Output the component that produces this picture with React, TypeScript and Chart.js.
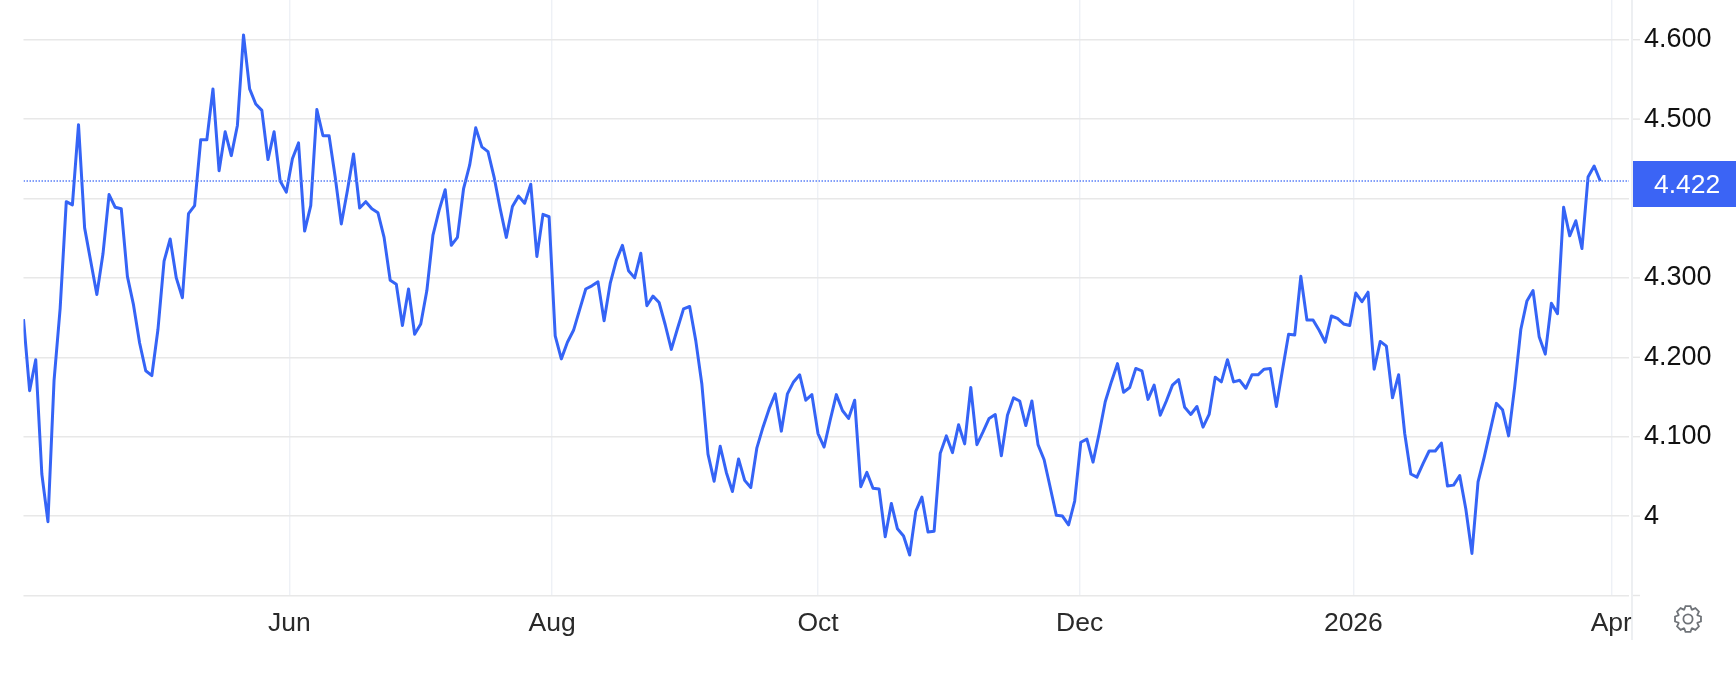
import React, { useEffect, useRef } from "react";
import { Chart, registerables } from "chart.js";

Chart.register(...registerables);

const yields: number[] = [
  4.248, 4.158, 4.197, 4.053, 3.993, 4.171, 4.262, 4.396, 4.392, 4.493,
  4.363, 4.321, 4.279, 4.33, 4.405, 4.389, 4.387, 4.302, 4.266, 4.218,
  4.183, 4.177, 4.235, 4.321, 4.349, 4.3, 4.275, 4.381, 4.391, 4.474,
  4.474, 4.538, 4.435, 4.484, 4.454, 4.492, 4.606, 4.538, 4.519, 4.511,
  4.449, 4.484, 4.422, 4.408, 4.45, 4.47, 4.359, 4.391, 4.512, 4.479,
  4.479, 4.427, 4.368, 4.41, 4.456, 4.388, 4.396, 4.387, 4.382, 4.351,
  4.297, 4.292, 4.24, 4.286, 4.229, 4.242, 4.284, 4.354, 4.385, 4.411,
  4.341, 4.351, 4.412, 4.442, 4.489, 4.465, 4.459, 4.427, 4.387, 4.351,
  4.39, 4.403, 4.394, 4.418, 4.327, 4.38, 4.377, 4.227, 4.198, 4.219,
  4.234, 4.26, 4.286, 4.29, 4.295, 4.246, 4.293, 4.322, 4.341, 4.309,
  4.3, 4.331, 4.265, 4.277, 4.269, 4.241, 4.21, 4.236, 4.261, 4.264,
  4.221, 4.166, 4.078, 4.044, 4.088, 4.055, 4.031, 4.072, 4.045, 4.036,
  4.086, 4.112, 4.135, 4.154, 4.107, 4.154, 4.169, 4.178, 4.146, 4.153,
  4.104, 4.087, 4.121, 4.153, 4.133, 4.123, 4.146, 4.037, 4.055, 4.035,
  4.034, 3.974, 4.016, 3.984, 3.975, 3.951, 4.006, 4.024, 3.98, 3.981,
  4.079, 4.101, 4.08, 4.115, 4.091, 4.162, 4.09, 4.106, 4.123, 4.128,
  4.076, 4.127, 4.149, 4.145, 4.114, 4.145, 4.09, 4.071, 4.036, 4.001,
  4.0, 3.989, 4.019, 4.093, 4.097, 4.068, 4.104, 4.144, 4.169, 4.192,
  4.156, 4.162, 4.186, 4.183, 4.147, 4.165, 4.127, 4.145, 4.165, 4.172,
  4.137, 4.128, 4.138, 4.112, 4.128, 4.175, 4.169, 4.197, 4.169, 4.171,
  4.161, 4.178, 4.178, 4.185, 4.186, 4.138, 4.184, 4.229, 4.228, 4.302,
  4.247, 4.247, 4.234, 4.219, 4.252, 4.249, 4.242, 4.24, 4.281, 4.27,
  4.282, 4.185, 4.22, 4.214, 4.149, 4.178, 4.104, 4.053, 4.049, 4.066,
  4.082, 4.082, 4.092, 4.038, 4.039, 4.051, 4.009, 3.953, 4.043, 4.074,
  4.108, 4.142, 4.134, 4.101, 4.163, 4.235, 4.271, 4.284, 4.226, 4.204,
  4.268, 4.255, 4.389, 4.353, 4.372, 4.337, 4.427, 4.441, 4.422,
];

const xTickLabels: string[] = ["Jun", "Aug", "Oct", "Dec", "2026", "Apr"];
const xTickIndex: number[] = [43.5, 86.5, 130, 172.8, 217.6, 259.8];
const yTickValues: number[] = [3.9, 4, 4.1, 4.2, 4.3, 4.4, 4.5, 4.6];
const lastValue = 4.422;
const lastLabel = "4.422";

const BLUE = "#3564f6";
const FONT = '"Liberation Sans", Arial, sans-serif';

const decorations = {
  id: "decorations",
  afterDraw(chart: any) {
    const { ctx } = chart;
    const y = chart.scales.y;
    ctx.save();
    // price axis line
    ctx.strokeStyle = "#e6e8ec";
    ctx.lineWidth = 1.4;
    ctx.beginPath();
    ctx.moveTo(1632, 0);
    ctx.lineTo(1632, 640);
    ctx.stroke();
    // tick marks
    ctx.strokeStyle = "#e6e6e6";
    for (const v of yTickValues) {
      const py = y.getPixelForValue(v);
      ctx.beginPath();
      ctx.moveTo(1633, py);
      ctx.lineTo(1640, py);
      ctx.stroke();
    }
    // last value box
    ctx.fillStyle = "#3b64f5";
    ctx.fillRect(1633, 161, 103, 46);
    ctx.fillStyle = "#ffffff";
    ctx.font = "26.5px " + FONT;
    ctx.textAlign = "left";
    ctx.textBaseline = "middle";
    ctx.fillText(lastLabel, 1654, 186);
    // settings gear
    const cx = 1688, cy = 619, teeth = 8;
    ctx.strokeStyle = "#6f7378";
    ctx.lineWidth = 1.8;
    ctx.beginPath();
    for (let i = 0; i < teeth; i++) {
      const a = (i / teeth) * Math.PI * 2 - Math.PI / 2;
      const w = Math.PI / teeth;
      const pts = [
        [10.2, a - w * 0.95],
        [13.2, a - w * 0.48],
        [13.2, a + w * 0.48],
        [10.2, a + w * 0.95],
      ];
      pts.forEach(([r, t], k) => {
        const px = cx + r * Math.cos(t), py = cy + r * Math.sin(t);
        if (i === 0 && k === 0) ctx.moveTo(px, py);
        else ctx.lineTo(px, py);
      });
    }
    ctx.closePath();
    ctx.stroke();
    ctx.beginPath();
    ctx.arc(cx, cy, 4.6, 0, Math.PI * 2);
    ctx.stroke();
    ctx.restore();
  },
};

export default function App() {
  const ref = useRef<HTMLCanvasElement>(null);
  useEffect(() => {
    const chart = new Chart(ref.current as HTMLCanvasElement, {
      type: "line",
      data: {
        datasets: [
          {
            data: [
              { x: 0, y: lastValue },
              { x: 262.7, y: lastValue },
            ],
            borderColor: "#5a80f8",
            borderWidth: 1.5,
            borderDash: [1.5, 1.5],
            pointRadius: 0,
          },
          {
            data: yields.map((v, i) => ({ x: i, y: v })),
            borderColor: BLUE,
            borderWidth: 3,
            pointRadius: 0,
            tension: 0,
            borderJoinStyle: "round",
          },
        ],
      },
      plugins: [decorations],
      options: {
        animation: false,
        responsive: false,
        devicePixelRatio: 1,
        layout: { padding: { left: 23.5, right: 0, top: 0, bottom: 0 } },
        plugins: { legend: { display: false }, tooltip: { enabled: false } },
        scales: {
          x: {
            type: "linear",
            min: 0,
            max: 262.7,
            afterBuildTicks(axis: any) {
              axis.ticks = xTickIndex.map((value) => ({ value }));
            },
            afterFit(axis: any) {
              axis.height = 88.5;
              axis.paddingLeft = 0;
              axis.paddingRight = 0;
            },
            border: { display: false },
            grid: { color: "#eef1f6", lineWidth: 1.4, drawTicks: false },
            ticks: {
              autoSkip: false,
              maxRotation: 0,
              padding: 12,
              color: "#2a2a2a",
              font: { family: FONT, size: 26.5 },
              callback: (v: any) => {
                const i = xTickIndex.indexOf(v);
                return i >= 0 ? xTickLabels[i] : "";
              },
            },
          },
          y: {
            position: "right",
            min: 3.9,
            max: 4.65,
            afterBuildTicks(axis: any) {
              axis.ticks = yTickValues.map((value) => ({ value }));
            },
            afterFit(axis: any) {
              axis.width = 107;
              axis.paddingTop = 0;
              axis.paddingBottom = 0;
            },
            border: { display: false },
            grid: { color: "#e8e8e8", lineWidth: 1.4, drawTicks: false },
            ticks: {
              padding: 15,
              color: "#111111",
              font: { family: FONT, size: 27 },
              callback: (v: any) => (v === 3.9 ? "" : v === 4 ? "4" : Number(v).toFixed(3)),
            },
          },
        },
      },
    } as any);
    return () => chart.destroy();
  }, []);
  return (
    <div style={{ position: "absolute", left: 0, top: 0, width: 1736, height: 684, background: "#fff" }}>
      <canvas ref={ref} width={1736} height={684} style={{ display: "block" }} />
    </div>
  );
}
